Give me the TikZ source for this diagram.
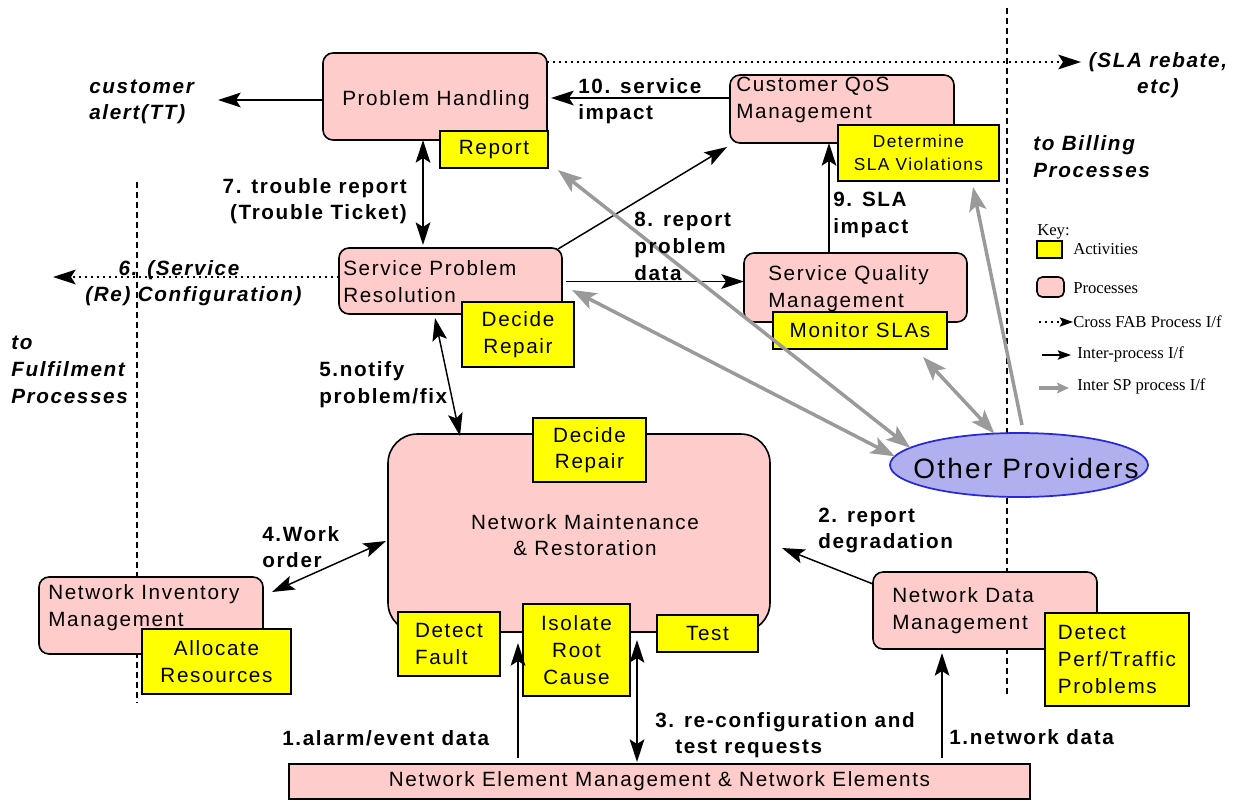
\documentclass[tikz,border=0pt]{standalone}
\usepackage{fontspec}
\setmainfont{Liberation Sans}[LetterSpace=8]
\newfontfamily\keyfont{Liberation Serif}
\usetikzlibrary{arrows.meta,calc,shapes.geometric}

\definecolor{procpink}{HTML}{FFCCCC}
\definecolor{actyellow}{HTML}{FFFF00}
\definecolor{provfill}{HTML}{B0B0EE}
\definecolor{provedge}{HTML}{2828D8}
\definecolor{spgrey}{HTML}{9A9A9A}

\tikzset{
  wh/.style 2 args={minimum width=#1*0.75pt, minimum height=#2*0.75pt},
  proc/.style={draw=black, line width=1.2pt, fill=procpink, rounded corners=7.5pt,
    inner sep=0pt, outer sep=0pt, anchor=north west},
  act/.style={draw=black, line width=1.2pt, fill=actyellow, inner sep=0pt,
    outer sep=0pt, anchor=north west, align=center,
    font=\fontsize{15.5}{20}\selectfont},
  txt/.style={inner sep=0pt, align=left, font=\fontsize{15.5}{20}\selectfont},
  lab/.style={inner sep=0pt, align=left, font=\fontsize{15.5}{20}\selectfont\bfseries},
  labit/.style={inner sep=0pt, align=left, font=\fontsize{15.5}{20}\selectfont\bfseries\itshape},
  keytxt/.style={inner sep=0pt, anchor=west, font=\keyfont\fontsize{12.5}{15}\selectfont},
  blackhead/.tip={Stealth[length=17pt,width=11pt,inset=3.5pt]},
  greyhead/.tip={Stealth[length=18pt,width=13pt,inset=4pt]},
  flow/.style={draw=black, line width=1.1pt, -blackhead},
  flowboth/.style={draw=black, line width=1.1pt, blackhead-blackhead},
  cross/.style={draw=black, line width=1.1pt, dash pattern=on 1.2pt off 3.3pt, -blackhead},
  divider/.style={draw=black, line width=1pt, dash pattern=on 4.5pt off 3pt},
  sp/.style={draw=spgrey, line width=2.6pt, -greyhead},
  spboth/.style={draw=spgrey, line width=2.6pt, greyhead-greyhead},
  provider/.style={ellipse, draw=provedge, line width=1.3pt, fill=provfill,
    inner sep=0pt, outer sep=0pt, wh={258}{64}},
}

\begin{document}
\begin{tikzpicture}[x=0.75pt, y=-0.75pt]
\useasboundingbox (0,0) rectangle (1241,801);
\fill[white] (0,0) rectangle (1241,801);

% dashed boundaries between process areas
\coordinate (billtop) at (1007,8);
\coordinate (billbot) at (1007,695);
\coordinate (fulftop) at (137,182);
\coordinate (fulfbot) at (137,703);
\draw[divider] (billtop) -- (billbot);
\draw[divider] (fulftop) -- (fulfbot);

% processes
\node[proc, wh={224}{87}] (ph)  at (323,53)  {};
\node[proc, wh={224}{68}] (cqm) at (730,75)  {};
\node[proc, wh={223}{66}] (spr) at (339,248) {};
\node[proc, wh={223}{69}] (sqm) at (744,253) {};
\node[proc, wh={382}{198}, rounded corners=22pt] (nmr) at (388,434) {};
\node[proc, wh={224}{77}] (nim) at (39,577)  {};
\node[proc, wh={224}{77}] (ndm) at (873,572) {};
\node[proc, wh={741}{35}, rounded corners=0pt, font=\fontsize{15.5}{20}\selectfont] (nem) at (289,764)
  {Network Element Management \& Network Elements};

\node[txt] (ph-l)  at (436,100)   {Problem Handling};
\node[txt, anchor=west] (cqm-l) at (736,100)   {Customer QoS\\Management};
\node[txt, anchor=west] (spr-l) at (343,281.5) {Service Problem\\Resolution};
\node[txt, anchor=west] (sqm-l) at (768,288.5) {Service Quality\\Management};
\node[txt, align=center] (nmr-l) at (585,535) {Network Maintenance\\\& Restoration};
\node[txt, anchor=west] (nim-l) at (48,607.5)  {Network Inventory\\Management};
\node[txt, anchor=west] (ndm-l) at (892,610.5) {Network Data\\Management};

% activities
\node[act, wh={108}{37}] (rep)   at (440,131) {Report};
\node[act, wh={161}{56}, font=\fontsize{13}{17}\selectfont] (det) at (838,125) {Determine\\SLA Violations};
\node[act, wh={112}{65}] (sprdr) at (462,302) {Decide\\Repair};
\node[act, wh={174}{37}] (mon)   at (773,312) {Monitor SLAs};
\node[act, wh={113}{64}] (nmrdr) at (533,418) {Decide\\Repair};
\node[act, wh={102}{64}, align=left] (detf) at (398,612) {Detect\\Fault};
\node[act, wh={107}{92}] (iso)   at (523,604) {Isolate\\Root\\Cause};
\node[act, wh={101}{37}] (test)  at (657,615) {Test};
\node[act, wh={149}{65}] (alloc) at (142,629) {Allocate\\Resources};
\node[act, wh={144}{93}, align=left] (dperf) at (1045,613) {Detect\\Perf/Traffic\\Problems};

% other service providers
\node[provider] (op) at (1019,465) {};
\node[inner sep=0pt, font=\fontsize{21}{24}\selectfont] (op-l) at (1026,468) {Other Providers};

% free ends of outgoing interfaces
\coordinate (custtip) at (218,100);
\coordinate (fulftip) at (53,277);
\coordinate (slatip)  at (1081,62);

% inter-process interfaces
\draw[flow] ($(ph.west)+(0,3.5)$) -- (custtip);
\draw[flow] ($(cqm.north west)+(0,23)$) -- ($(ph.north east)+(4,45)$);
\draw[flowboth] ($(ph.south west)+(100,0)$) -- ($(spr.north west)+(84,-3)$);
\draw[flow] ($(spr.north east)+(-4,1)$) -- ($(cqm.south west)+(-3,4)$);
\draw[flow] ($(spr.east)+(4,0.5)$) -- ($(sqm.west)+(0,-6)$);
\draw[flow] ($(sqm.north west)+(85,0)$) -- ($(cqm.south west)+(99,0)$);
\draw[flowboth] ($(spr.south west)+(96,4)$) -- ($(nmr.north west)+(72,2)$);
\draw[flowboth] ($(nim.north east)+(9,15)$) -- ($(nmr.west)+(-2,8)$);
\draw[flow] ($(ndm.north west)+(0,12)$) -- ($(nmr.east)+(12,15)$);
\draw[flow] ($(nem.north west)+(229,-6)$) -- ($(nmr.south west)+(130,11)$);
\draw[flowboth] ($(nem.north west)+(348,-2)$) -- ($(nmr.south west)+(249,8)$);
\draw[flow] ($(nem.north west)+(653,-6)$) -- ($(ndm.south west)+(69,4)$);

% cross FAB interfaces
\draw[cross] ($(spr.west)+(0,-4)$) -- (fulftip);
\draw[cross] ($(ph.north east)+(0,9)$) -- (slatip);

% inter service provider interfaces
\draw[spboth] ($(rep.south east)+(10,2)$) -- (op.171);
\draw[spboth] ($(spr.south east)+(10,-24)$) -- (op.176);
\draw[spboth] ($(mon.south east)+(-24,8)$) -- (op.128);
\draw[sp] ($(op.north)+(3,-8)$) -- ($(det.south east)+(-26,6)$);

% interface labels
\node[lab, anchor=west] (l10) at (578,101)   {10. service\\impact};
\node[lab, anchor=east, align=right] (l7) at (407,201) {7. trouble report\\(Trouble Ticket)};
\node[lab, anchor=west] (l8)  at (634,246.5) {8. report\\problem\\data};
\node[lab, anchor=west] (l9)  at (833,215)   {9. SLA\\impact};
\node[labit, anchor=west] (l6) at (85,283)   {\hspace*{25pt}6. (Service\\(Re) Configuration)};
\node[lab, anchor=west] (l5)  at (319,384.5) {5.notify\\problem/fix};
\node[lab, anchor=west] (l4)  at (262,547)   {4.Work\\order};
\node[lab, anchor=west] (l2)  at (818,530.5) {2. report\\degradation};
\node[lab, anchor=west] (l1a) at (282,738)   {1.alarm/event data};
\node[lab, anchor=west] (l3)  at (655,735)   {3. re-configuration and\\\hspace*{15pt}test requests};
\node[lab, anchor=west] (l1n) at (949,737)   {1.network data};

\node[labit, anchor=west] (lcust) at (89,102) {customer\\alert(TT)};
\node[labit, align=center] (lsla) at (1158,75) {(SLA rebate,\\etc)};
\node[labit, anchor=west] (lbill) at (1033,156.5) {to Billing\\Processes};
\node[labit, anchor=west] (lfulf) at (11,370) {to\\Fulfilment\\Processes};

% key
\node[keytxt] (key) at (1037,232) {Key:};
\node[act, wh={25}{17}] (key-act) at (1037,241) {};
\node[keytxt] (key-act-l) at (1073,249) {Activities};
\node[proc, wh={27}{20}, rounded corners=4pt] (key-proc) at (1037,277) {};
\node[keytxt] (key-proc-l) at (1073,288) {Processes};
\node[keytxt] (key-cross) at (1073,322) {Cross FAB Process I/f};
\node[keytxt] (key-inter) at (1077,354) {Inter-process I/f};
\node[keytxt] (key-sp) at (1077,386) {Inter SP process I/f};
\draw[draw=black, line width=1.1pt, dash pattern=on 1.2pt off 3.3pt,
  -{Stealth[length=10pt,width=7pt,inset=2pt]}] ($(key-cross.west)+(-34,0)$) -- (key-cross.west);
\draw[draw=black, line width=1.1pt, -{Stealth[length=10pt,width=7pt,inset=2pt]}]
  ($(key-inter.west)+(-35,1)$) -- ($(key-inter.west)+(-6,1)$);
\draw[draw=spgrey, line width=2.6pt, -{Stealth[length=9pt,width=8pt,inset=2pt]}]
  ($(key-sp.west)+(-38,2)$) -- ($(key-sp.west)+(-8,2)$);
\end{tikzpicture}
\end{document}
